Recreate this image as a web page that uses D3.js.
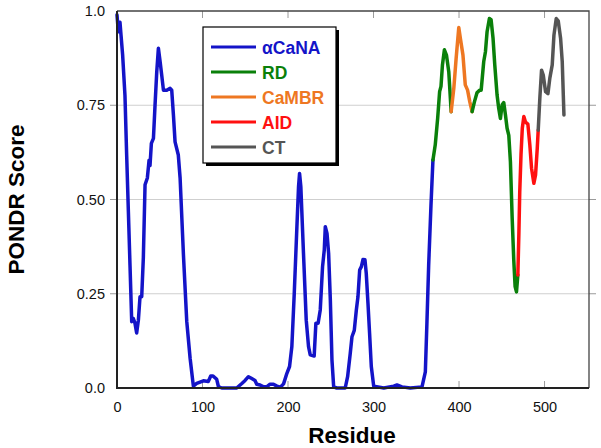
<!DOCTYPE html>
<html><head><meta charset="utf-8">
<script src="https://cdn.jsdelivr.net/npm/d3@7"></script>
<style>body{margin:0;background:#fff}svg{display:block}</style>
</head><body>
<svg id="c" width="601" height="448"></svg>
<script>
// ---- data (residue, PONDR score) ----
const caNA = [[0,0.99],[1.5,0.945],[3.5,0.97],[4.7,0.936],[6.6,0.883],[9.3,0.777],[11.3,0.618],[13.3,0.468],[15.2,0.326],[17.2,0.176],[19,0.185],[21,0.172],[23,0.146],[25,0.18],[26.9,0.242],[28.9,0.242],[30.8,0.345],[32.8,0.539],[35.5,0.557],[37.5,0.604],[38.6,0.59],[40.2,0.649],[42.6,0.662],[44.5,0.751],[46.5,0.839],[48.4,0.901],[50.4,0.866],[52.3,0.83],[54.3,0.79],[58.2,0.79],[62.1,0.795],[64,0.79],[66,0.724],[67.9,0.653],[71.7,0.618],[73.8,0.557],[77.7,0.353],[81.6,0.176],[85.5,0.079],[89.3,0.005],[93.2,0.012],[101,0.019],[106.7,0.017],[109.6,0.032],[112.3,0.032],[116.6,0.023],[118.6,0.004],[122.5,0],[140,0],[146,0.012],[149.8,0.02],[153.7,0.03],[157.6,0.025],[161.4,0.02],[163.4,0.01],[167.3,0.008],[171.4,0.003],[175,0.003],[179,0.01],[183,0.01],[187,0.005],[191,0.002],[194.8,0.011],[198.7,0.039],[201.8,0.057],[204.5,0.11],[207.3,0.251],[210.4,0.428],[212.3,0.534],[213.5,0.569],[215,0.534],[218.1,0.357],[221.3,0.18],[224,0.11],[226,0.088],[230.6,0.085],[232.6,0.172],[235.2,0.172],[237.7,0.207],[240.4,0.322],[242.4,0.366],[243.6,0.428],[245.6,0.41],[247.5,0.357],[249.5,0.233],[251.4,0.074],[253.4,0.003],[257,0],[266.9,0],[269.7,0.03],[272.8,0.092],[274.8,0.136],[277.5,0.153],[279.9,0.207],[281.8,0.242],[283.8,0.313],[285.8,0.322],[287.7,0.341],[290,0.34],[291.5,0.304],[293.5,0.225],[295.4,0.145],[297.4,0.057],[300.2,0.005],[312,0],[323.6,0.005],[327.4,0.008],[333.3,0.003],[343,0],[356.7,0.003],[360.6,0.043],[362.5,0.176],[364.5,0.326],[367.2,0.485],[369.5,0.605]];
const rd1 = [[369.5,0.605],[372.2,0.645],[375,0.715],[377.3,0.786],[378.9,0.8],[380.6,0.857],[382.9,0.897],[385.3,0.883],[388,0.839],[390.8,0.733]];
const camBR = [[390.8,0.733],[393.9,0.795],[396.6,0.874],[399.7,0.956],[401.6,0.927],[404.6,0.883],[407.3,0.804],[410,0.79],[412.6,0.759],[415.3,0.733]];
const rd2 = [[415.3,0.733],[418,0.759],[421,0.783],[424,0.79],[425.9,0.79],[428.9,0.866],[430.9,0.892],[432.8,0.945],[435.5,0.98],[437.5,0.977],[439.8,0.927],[441.8,0.857],[444.5,0.777],[446.4,0.742],[448.4,0.715],[450.4,0.751],[452.3,0.757],[454.3,0.724],[456.2,0.689],[458.2,0.67],[460.1,0.6],[462.1,0.454],[464,0.34],[465.6,0.269],[467.2,0.255],[468.8,0.3]];
const aid = [[468.8,0.3],[470,0.41],[471,0.52],[472.5,0.62],[474,0.689],[475.8,0.72],[477.8,0.705],[480.5,0.7],[482.8,0.645],[484.8,0.583],[487.5,0.543],[489.5,0.565],[491.5,0.636],[492.6,0.684]];
const ct = [[492.6,0.684],[494.5,0.768],[496.5,0.843],[498.5,0.83],[501.2,0.786],[504,0.781],[506.2,0.822],[509,0.857],[511,0.936],[513.7,0.98],[516,0.974],[518.8,0.927],[520.7,0.866],[522.7,0.724]];

const xTicks = [0,100,200,300,400,500];
const yTicks = [0,0.25,0.5,0.75,1.0];
const yTickLabels = ["0.0","0.25","0.50","0.75","1.0"];
const legendNames = ["\u03b1CaNA","RD","CaMBR","AID","CT"];
const legendColors = ["#1414c8","#0a800a","#ee7722","#ff1010","#555555"];

const segments = [
  {d: caNA, c: legendColors[0]},
  {d: rd1, c: legendColors[1]},
  {d: camBR, c: legendColors[2]},
  {d: rd2, c: legendColors[1]},
  {d: aid, c: legendColors[3]},
  {d: ct, c: legendColors[4]}
];

const svg = d3.select("#c");
const L = 117, R = 589, T = 11, B = 388;
const x = d3.scaleLinear().domain([0,552]).range([L,R]);
const y = d3.scaleLinear().domain([0,1]).range([B,T]);
const font = "'Liberation Sans', Arial, sans-serif";

// gridlines
svg.append("g").selectAll("line").data([0.25,0.5,0.75]).join("line")
  .attr("x1",L).attr("x2",R).attr("y1",d=>y(d)).attr("y2",d=>y(d))
  .attr("stroke","#cfcfcf").attr("stroke-width",1);

// axes
const xAxis = svg.append("g").attr("transform",`translate(0,${B})`)
  .call(d3.axisBottom(x).tickValues(xTicks).tickSize(0).tickPadding(14).tickFormat(d3.format("d")));
xAxis.select(".domain").remove();
xAxis.selectAll("text").attr("font-family",font).attr("font-size",14.5).attr("fill","#111");

const yAxis = svg.append("g").attr("transform",`translate(${L},0)`)
  .call(d3.axisLeft(y).tickValues(yTicks).tickSize(0).tickPadding(12).tickFormat((d,i)=>yTickLabels[i]));
yAxis.select(".domain").remove();
yAxis.selectAll("text").attr("font-family",font).attr("font-size",14.5).attr("fill","#111");

// small ticks
const tg = svg.append("g").attr("stroke","#9a9a9a").attr("stroke-width",1);
tg.selectAll(".bt").data(xTicks.slice(1)).join("line").attr("x1",d=>x(d)).attr("x2",d=>x(d)).attr("y1",B).attr("y2",B-7);
tg.selectAll(".tt").data(xTicks.slice(1)).join("line").attr("x1",d=>x(d)).attr("x2",d=>x(d)).attr("y1",T).attr("y2",T+7);
tg.selectAll(".lt").data([0.25,0.5,0.75]).join("line").attr("x1",L-7).attr("x2",L).attr("y1",d=>y(d)).attr("y2",d=>y(d));
tg.selectAll(".rt").data([0.25,0.5,0.75]).join("line").attr("x1",R).attr("x2",R+7).attr("y1",d=>y(d)).attr("y2",d=>y(d));

// line segments
const line = d3.line().x(d=>x(d[0])).y(d=>y(d[1])).curve(d3.curveLinear);
svg.append("g").selectAll("path").data(segments).join("path")
  .attr("d",s=>line(s.d)).attr("fill","none").attr("stroke",s=>s.c)
  .attr("stroke-width",3.5).attr("stroke-linejoin","round").attr("stroke-linecap","round");

// frame
svg.append("path").attr("d",`M${L},${T}H${R}V${B}`).attr("fill","none").attr("stroke","#444").attr("stroke-width",1.3);
svg.append("path").attr("d",`M${L},${T}V${B}H${R}`).attr("fill","none").attr("stroke","#222").attr("stroke-width",2);

// axis titles
svg.append("text").attr("x",(L+R)/2 - 1).attr("y",443).attr("text-anchor","middle")
  .attr("font-family",font).attr("font-weight","bold").attr("font-size",22.5).attr("fill","#000").text("Residue");
svg.append("text").attr("transform",`translate(24,${(T+B)/2}) rotate(-90)`).attr("text-anchor","middle")
  .attr("font-family",font).attr("font-weight","bold").attr("font-size",22.5).attr("fill","#000").text("PONDR Score");

// legend
const lg = svg.append("g");
lg.append("rect").attr("x",206).attr("y",30).attr("width",133).attr("height",136).attr("fill","#000");
lg.append("rect").attr("x",203).attr("y",27).attr("width",133).attr("height",136).attr("fill","#fff").attr("stroke","#000").attr("stroke-width",1.2);
const rows = lg.selectAll(".row").data(legendNames).join("g").attr("transform",(d,i)=>`translate(0,${47+i*25})`);
rows.append("line").attr("x1",211).attr("x2",256).attr("y1",0).attr("y2",0).attr("stroke",(d,i)=>legendColors[i]).attr("stroke-width",3);
rows.append("text").attr("x",262).attr("y",6.5).attr("font-family",font).attr("font-weight","bold").attr("font-size",17.5)
  .attr("fill",(d,i)=>legendColors[i]).text(d=>d);
</script>
</body></html>
